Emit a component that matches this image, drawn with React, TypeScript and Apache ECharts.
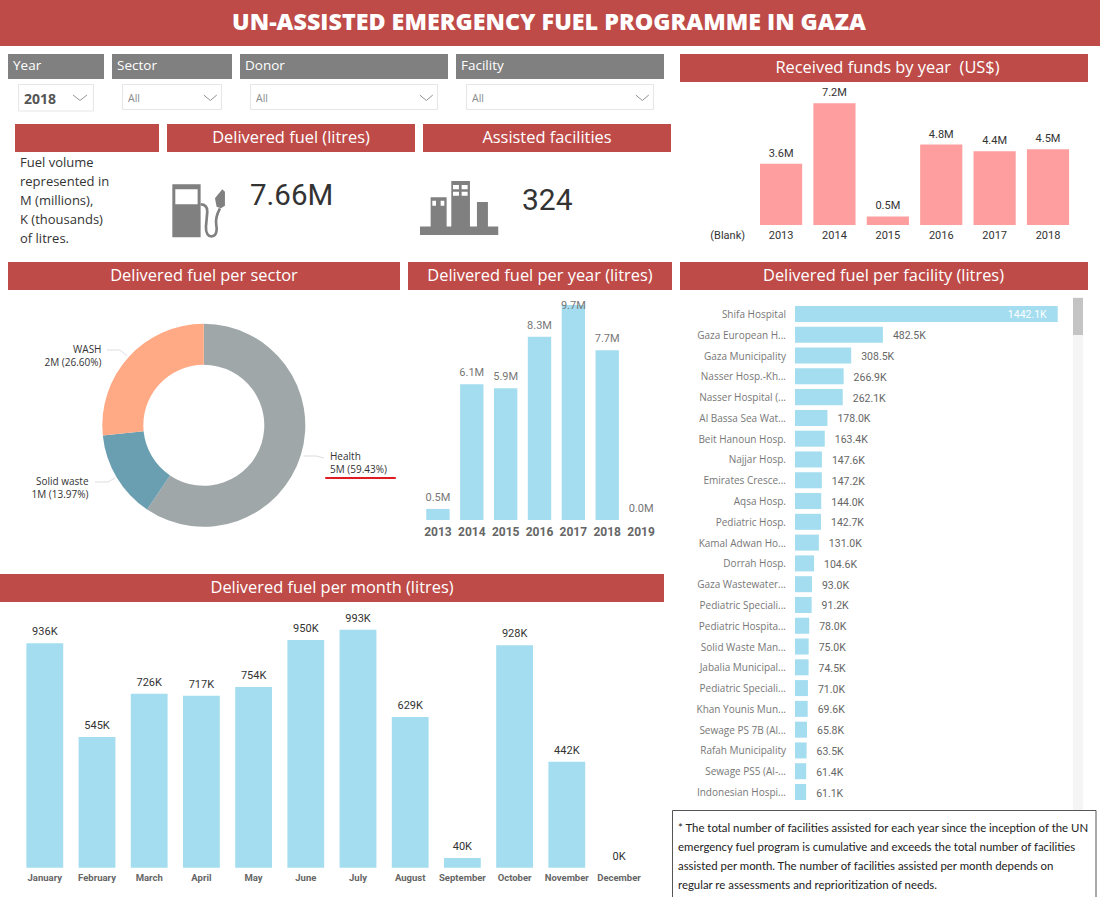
import React, { useEffect, useRef } from "react";
import * as echarts from "echarts";

const SANS = '"Open Sans", sans-serif';
const DIN = 'Roboto, sans-serif';
const RED = "#BE4B48";
const GREY = "#808080";
const BLUE = "#A3DDEF";
const PINK = "#FF9E9E";

const pageTitle = "UN-ASSISTED EMERGENCY FUEL PROGRAMME IN GAZA";
const deliveredTotal = "7.66M";
const facilitiesTotal = "324";
const fuelNote = ["Fuel volume", "represented in", "M (millions),", "K (thousands)", "of litres."];
const footNote = [
  "* The total number of facilities assisted for each year since the inception of the UN",
  "emergency fuel program is cumulative and exceeds the total number of facilities",
  "assisted per month. The number of facilities assisted per month depends on",
  "regular re assessments and reprioritization of needs.",
];

const fundYears = ["(Blank)", "2013", "2014", "2015", "2016", "2017", "2018"];
const fundValues = [null, 3.63, 7.2, 0.51, 4.76, 4.36, 4.48];

const fuelYears = ["2013", "2014", "2015", "2016", "2017", "2018", "2019"];
const fuelYearValues = [0.5, 6.13, 5.94, 8.27, 9.7, 7.66, 0];

const months = ["January", "February", "March", "April", "May", "June", "July", "August", "September", "October", "November", "December"];
const monthValues = [936, 545, 726, 717, 754, 950, 993, 629, 40, 928, 442, 0];

const sectorNames = ["Health", "Solid waste", "WASH"];
const sectorPercents = [59.43, 13.97, 26.6];
const sectorMillions = [5, 1, 2];
const sectorColors = ["#9FA7A8", "#6A9FB2", "#FFA985"];

const facilities = [
  "Shifa Hospital", "Gaza European H...", "Gaza Municipality", "Nasser Hosp.-Kh...", "Nasser Hospital (...",
  "Al Bassa Sea Wat...", "Beit Hanoun Hosp.", "Najjar Hosp.", "Emirates Cresce...", "Aqsa Hosp.",
  "Pediatric Hosp.", "Kamal Adwan Ho...", "Dorrah Hosp.", "Gaza Wastewater...", "Pediatric Speciali...",
  "Pediatric Hospita...", "Solid Waste Man...", "Jabalia Municipal...", "Pediatric Speciali...", "Khan Younis Mun...",
  "Sewage PS 7B (Al...", "Rafah Municipality", "Sewage PS5 (Al-...", "Indonesian Hospi...",
];
const facilityValues = [
  1442.1, 482.5, 308.5, 266.9, 262.1, 178.0, 163.4, 147.6, 147.2, 144.0, 142.7, 131.0,
  104.6, 93.0, 91.2, 78.0, 75.0, 74.5, 71.0, 69.6, 65.8, 63.5, 61.4, 61.1,
];

const redHeaders: [string, number, number, number, number, number][] = [
  ["", 15, 124, 144, 28, 87],
  ["Delivered fuel (litres)", 167, 124, 248, 28, 291],
  ["Assisted facilities", 423, 124, 248, 28, 547],
  ["Received funds by year  (US$)", 680, 54, 408, 28, 887.5],
  ["Delivered fuel per sector", 8, 262, 392, 28, 204],
  ["Delivered fuel per year (litres)", 408, 262, 264, 28, 540],
  ["Delivered fuel per facility (litres)", 680, 262, 408, 28, 883.5],
  ["Delivered fuel per month (litres)", 0, 574, 664, 28, 332],
];

const filters: [string, number, number][] = [
  ["Year", 8, 96],
  ["Sector", 112, 120],
  ["Donor", 240, 208],
  ["Facility", 456, 208],
];

const dropdowns: [string, number, number, number][] = [
  ["2018", 18, 76, 26.5],
  ["All", 122, 100, 25],
  ["All", 250, 188, 25],
  ["All", 466, 188, 25],
];

const pieLabelPlacement = [
  { x: 330, y: 462.5, align: "left", line: [[303.5, 456], [316, 456], [324, 458]] },
  { x: 88.5, y: 487, align: "right", line: [[95, 482], [108, 482], [115, 478]] },
  { x: 101.5, y: 355.5, align: "right", line: [[107, 350], [120, 350], [127, 356]] },
];

echarts.graphic.registerShape("pumpBody", echarts.graphic.extendPath(
  "M22 28H107V187H22ZM31 43V88H98V43Z", {}));
echarts.graphic.registerShape("pumpHose", echarts.graphic.extendPath(
  "M107 88C120 88 127 95 127 110L123 155C122 175 130 186 142 184C155 182 157 165 154 150C150 130 157 115 165 100", {}));
echarts.graphic.registerShape("pumpNozzle", echarts.graphic.extendPath(
  "M150 70L172 43L180 50L180 92L168 100L155 95Z", {}));
echarts.graphic.registerShape("buildings", echarts.graphic.extendPath(
  "M15 155H47V67H95V155H109V18H165V155H186V81H219V155H250V180H15Z" +
  "M52 77V92H63V77ZM77 77V92H88V77Z" +
  "M114 30V43H132V30ZM140 30V43H158V30ZM114 50V62H132V50ZM140 50V62H158V50Z", {}));

function txt(text: string, x: number, y: number, fontSize: number, fill: string, align = "left", extra: any = {}) {
  return {
    type: "text", x, y, silent: true, z: 5,
    style: { text, fill, fontSize, fontFamily: SANS, textAlign: align, textVerticalAlign: "middle", ...extra },
  };
}
const box = (x: number, y: number, w: number, h: number, fill: string, stroke?: string) => ({
  type: "rect", silent: true, shape: { x, y, width: w, height: h },
  style: { fill, stroke: stroke ?? undefined, lineWidth: stroke ? 1 : 0 },
});

function buildGraphics() {
  const els: any[] = [];
  els.push(box(0, 0, 1100, 46, RED));
  els.push(txt(pageTitle, 549, 21, 23.3, "#fff", "center", { fontWeight: 800 }));
  for (const [t, x, w] of filters) {
    els.push(box(x, 54, w, 25, GREY));
    els.push(txt(t, x + 5, 65, 13.5, "#fff"));
  }
  dropdowns.forEach(([t, x, w, h], i) => {
    els.push(box(x + 0.5, 84.5, w - 1, h, "#fff", "#E6E6E6"));
    const isYear = i === 0;
    els.push(txt(t, x + 6, 98, isYear ? 14 : 10.5, isYear ? "#555" : "#8A8A8A", "left", isYear ? { fontWeight: 700 } : {}));
    const cx = isYear ? 80 : x + w - 11.7;
    const half = isYear ? 7 : 6.5;
    els.push({ type: "polyline", silent: true, shape: { points: [[cx - half, 95], [cx, 100.5], [cx + half, 95]] }, style: { stroke: "#888", lineWidth: 0.9, fill: "none" } });
  });
  for (const [t, x, y, w, h, cx] of redHeaders) {
    els.push(box(x, y, w, h, RED));
    if (t) els.push(txt(t, cx, y + 12.2, 16.4, "#fff", "center"));
  }
  fuelNote.forEach((l, i) => els.push(txt(l, 20, 162 + i * 19, 13, "#333")));
  const icon = { x: 165, y: 175, scaleX: 1 / 3, scaleY: 1 / 3, silent: true };
  els.push({ type: "pumpBody", ...icon, style: { fill: GREY } });
  els.push({ type: "pumpNozzle", ...icon, style: { fill: GREY } });
  els.push({ type: "pumpHose", ...icon, style: { fill: "none", stroke: GREY, lineWidth: 8 } });
  els.push({ type: "buildings", silent: true, x: 415, y: 175, scaleX: 1 / 3, scaleY: 1 / 3, style: { fill: GREY } });
  els.push(txt(deliveredTotal, 250, 195, 29.5, "#333", "left", { fontFamily: DIN }));
  els.push(txt(facilitiesTotal, 522, 199, 30, "#333", "left", { fontFamily: DIN }));
  // scrollbar
  els.push(box(1073, 297, 10, 513, "#F5F5F5"));
  els.push(box(1073, 298, 10, 37, "#C4C4C4"));
  // footnote
  els.push({ ...box(672.5, 810.5, 423.5, 100, "#fff", "#555"), z: 4 });
  footNote.forEach((l, i) => els.push(txt(l, 678, 827 + i * 19, 11.4, "#222", "left", { fontFamily: 'Lato, sans-serif' })));
  // highlight under the Health label
  els.push({ type: "line", silent: true, z: 6, shape: { x1: 326, y1: 478, x2: 395, y2: 478 }, style: { stroke: "#E01B22", lineWidth: 2, lineCap: "round" } });
  return els;
}

function buildOption() {
  const hiddenValue = (max: number, i: number) => ({ type: "value", gridIndex: i, show: false, min: 0, max, splitLine: { show: false } });
  const cat = (data: string[], i: number, labelStyle: any) => ({
    type: "category", gridIndex: i, data,
    axisLine: { show: false }, axisTick: { show: false },
    axisLabel: { interval: 0, margin: 5, hideOverlap: false, ...labelStyle },
  });
  const bar = (i: number, data: any[], color: string, gap: string, label: any) => ({
    type: "bar", xAxisIndex: i, yAxisIndex: i, data, barCategoryGap: gap,
    itemStyle: { color }, label: { show: true, position: "top", distance: 5, ...label },
    silent: true,
  });
  const yearData = fuelYearValues.map((v) => {
    const isPeak = v === Math.max(...fuelYearValues);
    return isPeak ? { value: v, label: { offset: [0, 12] } } : v;
  });
  const facData = facilityValues.map((v, i) =>
    i === 0 ? { value: v, label: { position: "insideRight", color: "#fff", distance: 11 } } : v);
  return {
    animation: false,
    backgroundColor: "#fff",
    grid: [
      { left: 701, top: 103.3, width: 373.7, height: 121.7 },
      { left: 421, top: 305, width: 237, height: 215 },
      { left: 18.7, top: 629.7, width: 626.4, height: 238 },
      { left: 795, top: 303.6, width: 262.7, height: 498.8 },
    ],
    xAxis: [
      cat(fundYears, 0, { fontFamily: DIN, fontSize: 11, color: "#333" }),
      cat(fuelYears, 1, { fontFamily: DIN, fontSize: 12, color: "#666", fontWeight: 700, margin: 6 }),
      cat(months, 2, { fontFamily: DIN, fontSize: 9.5, color: "#666", fontWeight: 700 }),
      hiddenValue(1442.1, 3),
    ],
    yAxis: [
      hiddenValue(7.2, 0),
      hiddenValue(9.7, 1),
      hiddenValue(993, 2),
      { ...cat(facilities, 3, { fontFamily: SANS, fontSize: 10, color: "#777", margin: 9 }), inverse: true },
    ],
    series: [
      bar(0, fundValues, PINK, "21%", { fontFamily: DIN, fontSize: 11, color: "#333", formatter: (p: any) => `${p.value.toFixed(1)}M` }),
      bar(1, yearData, BLUE, "31%", { fontFamily: DIN, fontSize: 11, color: "#777", distance: 6, formatter: (p: any) => `${p.value.toFixed(1)}M` }),
      bar(2, monthValues, BLUE, "29.5%", { fontFamily: DIN, fontSize: 11, color: "#333", distance: 6, formatter: (p: any) => `${p.value}K` }),
      {
        ...bar(3, facData, BLUE, "23%", { fontFamily: DIN, fontSize: 10.5, color: "#666", position: "right", distance: 10, offset: [0, 1], formatter: (p: any) => `${p.value.toFixed(1)}K` }),
      },
      {
        type: "pie", center: [203.8, 425.3], radius: [60.5, 101.5], startAngle: 90, clockwise: true, silent: true,
        data: sectorNames.map((name, i) => ({ name, value: sectorPercents[i], itemStyle: { color: sectorColors[i] } })),
        label: {
          show: true, position: "outside", fontFamily: SANS, fontSize: 10, lineHeight: 13, color: "#333",
          formatter: (p: any) => `${p.name}\n${sectorMillions[p.dataIndex]}M (${sectorPercents[p.dataIndex].toFixed(2)}%)`,
        },
        labelLine: { show: true, lineStyle: { color: "#DDD", width: 1 } },
        labelLayout: (p: any) => {
          const s = pieLabelPlacement[p.dataIndex];
          return { x: s.x, y: s.y, align: s.align, verticalAlign: "middle", labelLinePoints: s.line };
        },
      },
    ],
    graphic: { elements: buildGraphics() },
  };
}

export default function App() {
  const ref = useRef<HTMLDivElement>(null);
  useEffect(() => {
    const chart = echarts.init(ref.current!, undefined, { renderer: "svg" });
    chart.setOption(buildOption() as any);
    return () => chart.dispose();
  }, []);
  return <div ref={ref} style={{ position: "absolute", left: 0, top: 0, width: 1100, height: 897, overflow: "hidden" }} />;
}
